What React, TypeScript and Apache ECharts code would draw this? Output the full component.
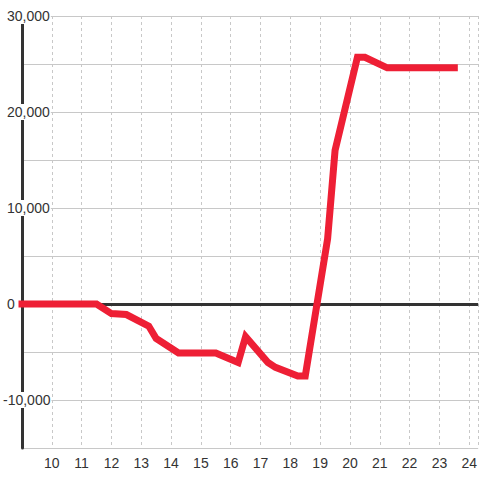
import React, { useEffect, useRef } from "react";
import * as echarts from "echarts";

const hours = [9, 11.5, 12, 12.5, 13.25, 13.5, 14.25, 15.5, 16.25, 16.5, 17.25, 17.5, 18.25, 18.5, 19.25, 19.5, 20.25, 20.5, 21.25, 23.5];
const values = [0, 0, -1000, -1100, -2300, -3600, -5100, -5100, -6100, -3400, -6100, -6600, -7500, -7500, 6800, 16000, 25700, 25700, 24600, 24600];

const labelFont = {
  color: "#333",
  fontSize: 14,
  fontFamily: "Liberation Sans, Arial, sans-serif",
};

export default function App() {
  const ref = useRef<HTMLDivElement>(null);
  useEffect(() => {
    document.body.style.margin = "0";
    const chart = echarts.init(ref.current!, null, { renderer: "svg" });
    const data = hours.map((h, i) => [h, values[i]]);
    chart.setOption({
      animation: false,
      backgroundColor: "#ffffff",
      grid: { left: 21, right: 0, top: 16, bottom: 32, containLabel: false },
      xAxis: {
        type: "value",
        min: 9,
        max: 24.3,
        interval: 1,
        axisLine: { show: false, onZero: false },
        axisTick: { show: false },
        axisLabel: {
          ...labelFont,
          showMinLabel: false,
          showMaxLabel: false,
          margin: 8,
        },
        splitLine: { show: true, lineStyle: { color: "#c8c8c8", type: [3, 3], width: 1 } },
      },
      yAxis: [
        {
          type: "value",
          min: -15000,
          max: 30000,
          interval: 5000,
          axisLine: { show: true, onZero: false, lineStyle: { color: "#333", width: 3 } },
          axisTick: { show: false },
          axisLabel: {
            ...labelFont,
            margin: 15,
            align: "left",
            backgroundColor: "#ffffff",
            padding: [1, 1, 1, 0],
            formatter: (v: number) => (v % 10000 === 0 && v >= 0 ? v.toLocaleString("en-US") : ""),
          },
          splitLine: { show: true, lineStyle: { color: "#c8c8c8", width: 1 } },
        },
        {
          type: "value",
          position: "left",
          min: -15000,
          max: 30000,
          interval: 5000,
          axisLine: { show: false, onZero: false },
          axisTick: { show: false },
          splitLine: { show: false },
          axisLabel: {
            ...labelFont,
            margin: 19,
            align: "left",
            backgroundColor: "#ffffff",
            padding: [1, 1, 1, 0],
            formatter: (v: number) => (v % 10000 === 0 && v < 0 ? v.toLocaleString("en-US") : ""),
          },
        },
      ],
      series: [
        {
          type: "line",
          data,
          showSymbol: false,
          symbol: "none",
          lineStyle: { color: "#ee1f35", width: 7, join: "miter", cap: "square" },
          markLine: {
            silent: true,
            symbol: "none",
            label: { show: false },
            lineStyle: { color: "#333", width: 3, type: "solid" },
            data: [{ yAxis: 0 }],
            z: 1,
          },
          z: 3,
        },
      ],
    });
    return () => chart.dispose();
  }, []);
  return <div ref={ref} style={{ width: 480, height: 480 }} />;
}
